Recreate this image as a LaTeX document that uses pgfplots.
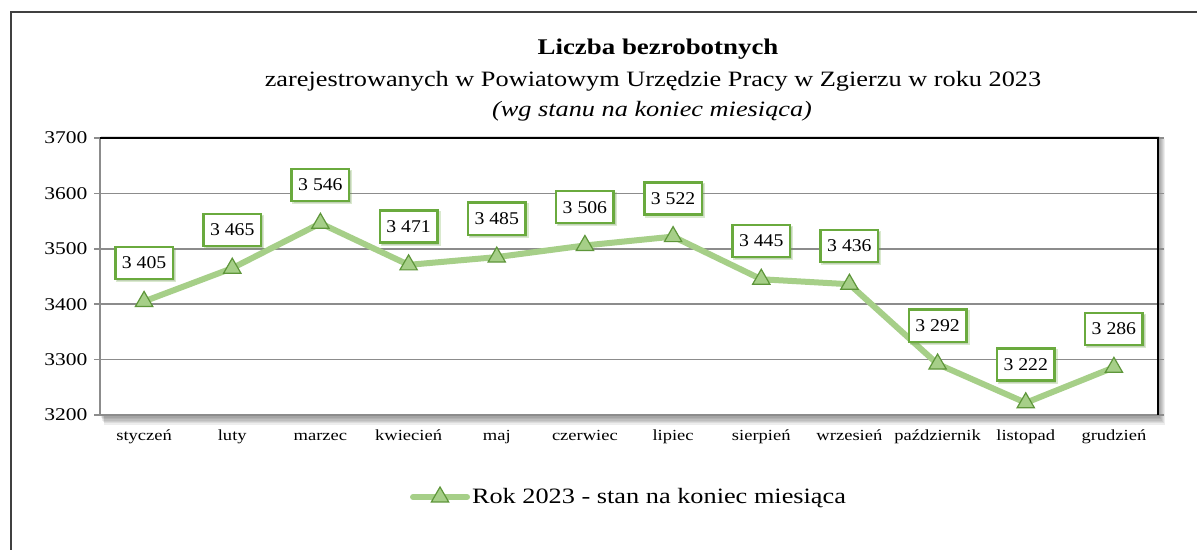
\documentclass[border=0pt]{standalone}
\usepackage{fontspec}
\setmainfont{Liberation Serif}[FakeStretch=1.2]
\newfontfamily\labelfont{Liberation Serif}[FakeStretch=1.1]
\usepackage{pgfplots}
\pgfplotsset{compat=1.18}
\usetikzlibrary{shadows}
\definecolor{lgreen}{RGB}{166,207,136}
\definecolor{mgreen}{RGB}{94,150,58}
\definecolor{bgreen}{RGB}{106,170,62}
\definecolor{gridgray}{RGB}{140,140,140}
\begin{document}
\begin{tikzpicture}[x=1bp,y=1bp]
\useasboundingbox (0,0) rectangle (1197,550);
% outer frame
\draw[black!75, line width=1.5bp] (11,-20) -- (11,538) -- (1220,538);
% titles
\node[font=\bfseries\fontsize{22.5}{26}\selectfont] at (658,501) {Liczba bezrobotnych};
\node[font=\fontsize{22}{26}\selectfont] at (653,469) {zarejestrowanych w Powiatowym Urzędzie Pracy w Zgierzu w roku 2023};
\node[font=\itshape\fontsize{22}{26}\selectfont] at (652,439) {(wg stanu na koniec miesiąca)};
% plot area shadow
\foreach \i in {1,...,7} {
  \fill[black, opacity=0.07] (100+\i*0.6,135-\i*1.4) rectangle (1158+\i*1.0,415-\i*0.6);
}
\begin{axis}[
  at={(100bp,135bp)}, anchor=south west,
  width=1058bp, height=277bp, scale only axis,
  xmin=-0.5, xmax=11.5, ymin=3200, ymax=3700,
  ytick={3200,3300,3400,3500,3600,3700},
  xtick={0,...,11},
  xticklabels={styczeń,luty,marzec,kwiecień,maj,czerwiec,lipiec,sierpień,wrzesień,październik,listopad,grudzień},
  /pgf/number format/assume math mode=true,
  /pgf/number format/1000 sep={},
  axis background/.style={fill=white},
  axis line style={draw=none},
  ymajorgrids, grid style={gridgray, line width=1.5bp},
  tick align=outside,
  xtick style={draw=none},
  ytick style={gridgray, line width=1.5bp},
  major tick length=6bp,
  yticklabel style={font=\fontsize{18}{20}\selectfont, xshift=-3bp},
  xticklabel style={font=\fontsize{15.5}{18}\selectfont, yshift=-5bp, text height=11bp, text depth=4bp},
  clip=false,
  legend style={draw=none, fill=none, at={(0.5,-0.296)}, anchor=center,
    font=\fontsize{22}{26}\selectfont, inner sep=0pt,
    /tikz/every even column/.style={column sep=0bp}},
  legend image code/.code={
    \draw[#1, mark repeat=2, mark phase=2] plot coordinates {(0bp,0bp) (27bp,0bp) (54bp,0bp)};
  },
]
\draw[gridgray, line width=1.5bp] (rel axis cs:0,1) -- (rel axis cs:0,0) -- (rel axis cs:1,0);
\draw[black, line width=2.2bp] (rel axis cs:0,1) -- (rel axis cs:1,1) -- (rel axis cs:1,0);
\addplot[lgreen, line width=6bp, line cap=round, line join=round,
  mark=triangle*, mark size=10bp,
  mark options={fill=lgreen, draw=mgreen, line width=1.2bp, line join=miter},
  nodes near coords, point meta=explicit symbolic,
  every node near coord/.style={anchor=south, yshift=21bp,
    font=\labelfont\fontsize{18}{20}\selectfont, text=black,
    draw=bgreen, line width=2.5bp, fill=white,
    inner xsep=6.5bp, inner ysep=10bp,
    drop shadow={opacity=0.25, shadow xshift=2bp, shadow yshift=-2bp}},
] coordinates {
  (0,3405) [3 405]
  (1,3465) [3 465]
  (2,3546) [3 546]
  (3,3471) [3 471]
  (4,3485) [3 485]
  (5,3506) [3 506]
  (6,3522) [3 522]
  (7,3445) [3 445]
  (8,3436) [3 436]
  (9,3292) [3 292]
  (10,3222) [3 222]
  (11,3286) [3 286]
};
\addlegendentry{Rok 2023 - stan na koniec miesiąca}
\end{axis}
\end{tikzpicture}
\end{document}
